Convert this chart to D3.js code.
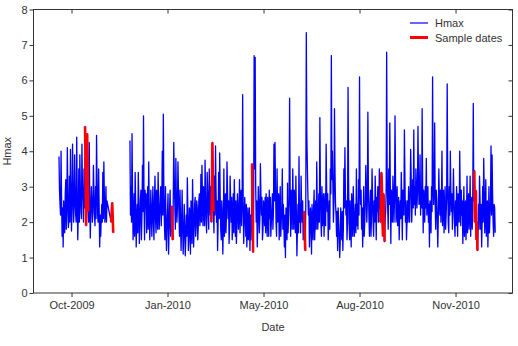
<!DOCTYPE html>
<html lang="en">
<head>
<meta charset="UTF-8">
<title>Hmax</title>
<script src="https://d3js.org/d3.v7.min.js"></script>
<style>
  body { margin: 0; background: #fff; }
  text { font-family: "Liberation Sans", Arial, sans-serif; }
</style>
</head>
<body>
<script>
// first block: readings at 00:00 each day from 19 Oct 2009 ...
let seg1Start = "2009-10-19";
let seg1Values = [
  3.85, 2.5, 4.0, 1.6, 1.3, 2.0, 2.8, 1.8, 4.1, 1.85,
  3.3, 4.05, 1.75, 4.2, 2.0, 3.9, 2.2, 4.4, 1.5, 3.5,
  3.9, 2.3, 4.2, 2.6, 3.5, 4.7, 1.9, 4.5, 2.3, 4.25,
  1.55, 3.0, 2.0, 3.6, 2.2, 3.0, 4.45, 2.2, 3.5, 1.3,
  1.6, 2.5, 3.4, 3.7, 2.0, 3.0, 2.6
];
// ... and at 12:00
let seg1Mid = [
  2.9, 2.2, 2.6, 2.4, 2.6, 1.7, 3.2, 2.3, 2.8, 2.1,
  2.0, 2.9, 2.4, 3.0, 2.4, 2.8, 2.0, 2.7, 2.2, 2.0,
  2.9, 2.1, 3.0, 2.0, 2.4, 3.4, 2.6, 3.6, 2.0, 2.6,
  2.3, 2.6, 2.3, 2.8, 1.9, 2.1, 3.1, 2.0, 2.4, 2.2,
  2.1, 2.0, 2.1, 2.7, 2.3, 2.0
];
// last few readings before the gap
let tailDates = ["2009-12-08", "2009-12-09", "2009-12-10"];
let tailValues = [2.0, 2.55, 1.7];

// second block from 26 Dec 2009, 00:00 readings
let seg2Start = "2009-12-26";
let seg2Values = [
  4.3, 3.0, 4.5, 1.5, 2.8, 3.4, 1.3, 2.5, 3.4, 1.4,
  2.6, 1.5, 3.6, 5.0, 1.5, 2.4, 1.7, 3.0, 3.7, 1.5,
  2.9, 1.6, 3.0, 1.5, 3.3, 1.7, 2.6, 3.4, 1.8, 2.7,
  1.9, 4.0, 5.05, 2.0, 3.0, 1.2, 2.3, 1.1, 2.4, 1.6,
  2.45, 1.5, 4.25, 2.5, 3.8, 2.0, 3.7, 2.2, 2.9, 1.2,
  2.9, 1.1, 2.5, 1.05, 2.2, 3.25, 1.2, 2.4, 1.1, 2.0,
  3.2, 1.3, 2.5, 1.6, 2.6, 1.5, 2.6, 1.9, 3.35, 3.6,
  1.9, 2.4, 3.75, 2.0, 3.4, 2.2, 3.5, 2.2, 2.0, 4.25,
  2.3, 3.3, 4.15, 2.0, 1.2, 3.4, 3.95, 1.8, 2.6, 1.1,
  3.5, 2.0, 1.7, 3.7, 2.1, 1.4, 3.3, 2.0, 1.5, 2.8,
  3.2, 1.6, 1.4, 2.8, 1.8, 3.2, 2.6, 1.9, 5.6, 1.4,
  2.7, 1.6, 1.3, 2.4, 1.9, 1.2, 1.5, 3.65, 1.15, 6.7,
  6.65, 2.0, 1.3, 3.0, 1.7, 3.65, 2.2, 1.5, 2.6, 1.9,
  1.7, 2.3, 2.7, 1.6, 2.1, 1.6, 2.4, 1.8, 4.2, 4.25,
  2.0, 3.5, 2.4, 1.5, 3.0, 2.0, 3.5, 2.5, 1.3, 1.0,
  2.0, 3.1, 2.1, 5.5, 1.6, 2.5, 3.5, 1.8, 2.4, 3.3,
  1.05, 2.5, 3.85, 2.5, 3.3, 2.0, 1.5, 2.3, 1.2, 7.35,
  3.6, 2.2, 1.3, 2.4, 1.1, 2.0, 2.4, 1.5, 2.6, 3.7,
  1.8, 2.8, 4.95, 2.0, 3.0, 2.2, 1.6, 2.8, 4.2, 2.3,
  1.5, 2.6, 3.5, 6.7, 4.0, 2.0, 5.2, 2.5, 1.6, 1.2,
  2.0, 1.0, 2.4, 1.5, 1.2, 3.5, 4.1, 2.2, 1.5, 5.8,
  2.0, 2.6, 1.3, 2.2, 3.0, 1.6, 2.5, 3.5, 2.5, 3.2,
  6.1, 2.5, 1.8, 1.3, 3.0, 2.0, 3.6, 2.0, 5.1, 2.2,
  2.4, 1.6, 3.5, 2.0, 2.6, 3.3, 1.5, 2.3, 2.0, 3.5,
  2.0, 3.4, 2.0, 2.8, 1.45, 2.3, 6.8, 2.4, 3.5, 4.8,
  1.4, 2.5, 3.3, 2.0, 5.0, 2.0, 3.0, 2.2, 1.5, 2.6,
  3.4, 1.5, 2.4, 4.6, 2.0, 1.5, 2.6, 3.0, 2.0, 4.05,
  2.0, 3.2, 4.6, 3.0, 3.5, 2.4, 4.7, 2.5, 3.9, 3.0,
  5.2, 1.7, 2.6, 3.0, 3.8, 2.7, 2.0, 1.3, 2.3, 3.0,
  6.1, 2.5, 4.8, 1.8, 2.6, 1.3, 3.5, 2.2, 2.0, 4.0,
  2.6, 1.7, 3.0, 2.2, 5.9, 2.0, 3.0, 4.0, 2.3, 1.8,
  3.5, 2.0, 2.6, 3.0, 1.6, 2.4, 4.0, 1.9, 2.2, 1.4,
  3.0, 2.0, 1.5, 3.3, 2.4, 1.8, 3.3, 2.4, 1.8, 5.35,
  3.45, 2.4, 1.5, 1.2, 2.5, 3.3, 1.8, 1.3, 3.0, 3.8,
  1.7, 3.2, 2.0, 1.3, 3.0, 2.2, 4.15, 3.9, 2.0, 2.5,
  1.7
];
// 12:00 readings, second block
let seg2Mid = [
  2.2, 2.0, 2.8, 2.0, 1.6, 2.5, 2.0, 1.7, 2.6, 1.9,
  2.9, 2.2, 2.3, 2.6, 2.9, 2.8, 2.3, 1.8, 2.4, 2.0,
  2.2, 2.4, 2.0, 2.6, 2.1, 2.9, 1.8, 2.5, 2.2, 3.0,
  2.5, 2.2, 2.8, 1.5, 2.2, 1.8, 2.8, 1.7, 2.9, 2.0,
  2.0, 2.6, 3.2, 1.8, 2.6, 2.4, 2.9, 1.6, 2.0, 1.9,
  1.9, 1.6, 1.9, 1.5, 1.6, 2.3, 1.5, 2.2, 2.6, 1.4,
  2.3, 1.8, 2.7, 1.9, 2.4, 1.9, 2.8, 2.2, 2.0, 2.6,
  3.0, 1.9, 2.7, 1.7, 2.9, 1.8, 2.8, 3.0, 2.7, 3.1,
  1.7, 2.2, 2.9, 2.6, 2.0, 2.1, 2.7, 1.5, 2.2, 1.9,
  1.6, 2.8, 2.2, 2.9, 2.6, 1.9, 2.6, 2.7, 2.0, 1.7,
  2.4, 2.6, 1.9, 2.4, 2.3, 1.7, 2.9, 2.5, 2.6, 2.0,
  2.2, 2.5, 1.8, 1.5, 2.4, 2.2, 2.0, 2.4, 2.0, 3.5,
  3.0, 2.6, 1.9, 2.5, 2.1, 2.8, 2.7, 1.8, 2.4, 2.7,
  2.8, 1.6, 2.3, 2.9, 2.7, 2.0, 2.8, 2.3, 2.6, 3.0,
  1.6, 2.0, 2.8, 2.2, 1.6, 2.4, 1.8, 2.0, 2.2, 2.4,
  1.5, 1.7, 2.6, 3.0, 2.9, 1.8, 2.6, 2.9, 1.7, 2.2,
  1.8, 1.7, 2.0, 1.7, 2.4, 2.6, 2.0, 1.7, 2.5, 4.5,
  2.8, 2.6, 1.8, 2.0, 2.5, 1.5, 2.9, 2.0, 1.8, 2.5,
  2.2, 2.0, 3.0, 1.6, 1.9, 2.8, 2.3, 1.9, 2.9, 2.8,
  2.0, 1.8, 2.8, 3.2, 3.0, 2.6, 3.4, 2.2, 2.3, 2.4,
  1.6, 1.4, 1.9, 2.3, 1.8, 2.4, 2.8, 2.6, 2.0, 3.2,
  1.5, 2.0, 2.8, 1.6, 2.3, 2.0, 1.7, 1.9, 1.8, 2.2,
  3.0, 2.9, 2.4, 2.0, 1.6, 2.5, 2.9, 2.6, 3.0, 1.6,
  2.9, 2.2, 2.7, 1.6, 2.0, 2.6, 2.7, 3.0, 2.4, 2.8,
  2.5, 2.9, 1.6, 2.2, 2.0, 2.8, 3.4, 1.8, 2.5, 3.0,
  2.9, 2.0, 2.8, 2.6, 3.2, 2.5, 1.9, 2.7, 2.2, 2.1,
  2.6, 2.9, 2.2, 3.3, 2.6, 2.0, 2.0, 2.6, 2.8, 3.3,
  2.6, 2.4, 2.5, 2.2, 3.0, 2.8, 3.3, 2.6, 2.2, 2.4,
  3.0, 2.9, 2.0, 2.4, 2.2, 3.0, 2.5, 2.6, 1.7, 2.3,
  3.2, 2.9, 2.5, 2.9, 2.0, 2.2, 2.6, 2.9, 2.6, 1.9,
  2.9, 2.2, 1.8, 2.7, 3.2, 1.7, 2.2, 2.9, 2.8, 2.5,
  2.6, 1.6, 1.9, 2.4, 2.8, 2.0, 2.7, 2.9, 2.6, 2.2,
  1.6, 2.6, 2.1, 1.7, 2.8, 2.4, 1.6, 2.7, 2.6, 2.6,
  2.0, 2.9, 2.0, 1.6, 1.8, 2.6, 2.5, 2.0, 2.0, 2.9,
  2.3, 1.6, 2.6, 2.0, 1.7, 2.6, 2.2, 2.8, 1.6, 2.4
];

// sampling periods (start, end)
let sampleDates = [
  ["2009-11-13", "2009-11-16"],
  ["2009-12-08", "2009-12-10"],
  ["2010-02-04", "2010-02-05"],
  ["2010-03-14", "2010-03-16"],
  ["2010-04-22", "2010-04-23"],
  ["2010-06-11", "2010-06-12"],
  ["2010-08-23", "2010-08-27"],
  ["2010-11-21", "2010-11-24"]
];

let xTicks = ["2009-10-31", "2010-01-31", "2010-05-03", "2010-08-03", "2010-11-03"];
let yTicks = [0, 1, 2, 3, 4, 5, 6, 7, 8];

let width = 518, height = 346;
let margin = {top: 9.5, right: 5.5, bottom: 53, left: 33.5};
let parse = d3.utcParse("%Y-%m-%d");

// one series, with a break (null) between the two blocks
let series = [];
function addBlock(start, vals, mids) {
  vals.forEach((v, i) => {
    let day = d3.utcDay.offset(parse(start), i);
    series.push({date: day, value: v});
    if (i < mids.length) series.push({date: d3.utcHour.offset(day, 12), value: mids[i]});
  });
}
addBlock(seg1Start, seg1Values, seg1Mid);
tailDates.forEach((d, i) => series.push({date: parse(d), value: tailValues[i]}));
series.push(null);
addBlock(seg2Start, seg2Values, seg2Mid);

let x = d3.scaleUtc()
  .domain([new Date(Date.UTC(2009, 8, 24, 14)), new Date(Date.UTC(2010, 11, 27, 14))])
  .range([margin.left, width - margin.right]);
let y = d3.scaleLinear()
  .domain([0, 8])
  .range([height - margin.bottom, margin.top]);

let svg = d3.select("body").append("svg")
  .attr("width", width)
  .attr("height", height);

let line = d3.line()
  .defined(d => d !== null)
  .x(d => x(d.date))
  .y(d => y(d.value));

svg.append("path")
  .datum(series)
  .attr("fill", "none")
  .attr("stroke", "#0000ff")
  .attr("stroke-width", 1.3)
  .attr("stroke-linejoin", "round")
  .attr("d", line);

sampleDates.forEach(r => {
  let a = parse(r[0]), b = parse(r[1]);
  let pts = series.filter(d => d && d.date >= a && d.date <= b);
  svg.append("path")
    .datum(pts)
    .attr("fill", "none")
    .attr("stroke", "#ff0000")
    .attr("stroke-width", 2.6)
    .attr("d", line);
});

// axes
let xAxis = d3.axisBottom(x)
  .tickValues(xTicks.map(parse))
  .tickFormat(d3.utcFormat("%b-%Y"))
  .tickSize(4);
let yAxis = d3.axisLeft(y)
  .tickValues(yTicks)
  .tickSize(4);

let gx = svg.append("g")
  .attr("transform", `translate(0,${height - margin.bottom})`)
  .call(xAxis);
let gy = svg.append("g")
  .attr("transform", `translate(${margin.left},0)`)
  .call(yAxis);

// mirrored ticks on top and right
svg.append("g")
  .attr("transform", `translate(0,${margin.top})`)
  .call(d3.axisTop(x).tickValues(xTicks.map(parse)).tickSize(-4).tickFormat(""));
svg.append("g")
  .attr("transform", `translate(${width - margin.right},0)`)
  .call(d3.axisRight(y).tickValues(yTicks).tickSize(-4).tickFormat(""));

svg.selectAll(".domain").remove();
svg.selectAll(".tick line").attr("stroke", "#333");
svg.selectAll(".tick text")
  .attr("font-size", 11)
  .attr("fill", "#333")
  .style("font-family", "'Liberation Sans', Arial, sans-serif");
gx.selectAll(".tick text").attr("dy", "0.95em").attr("y", 6);
gy.selectAll(".tick text").attr("x", -6);

// frame
svg.append("rect")
  .attr("x", margin.left)
  .attr("y", margin.top)
  .attr("width", width - margin.left - margin.right)
  .attr("height", height - margin.top - margin.bottom)
  .attr("fill", "none")
  .attr("stroke", "#333")
  .attr("stroke-width", 1);

// axis titles
svg.append("text")
  .attr("x", (margin.left + width - margin.right) / 2)
  .attr("y", 331)
  .attr("text-anchor", "middle")
  .attr("font-size", 11)
  .attr("fill", "#333")
  .text("Date");
svg.append("text")
  .attr("transform", `translate(11,${(margin.top + height - margin.bottom) / 2}) rotate(-90)`)
  .attr("text-anchor", "middle")
  .attr("font-size", 11)
  .attr("fill", "#333")
  .text("Hmax");

// legend
let legend = [
  {label: "Hmax", color: "#0000ff", w: 1.2},
  {label: "Sample dates", color: "#ff0000", w: 3}
];
legend.forEach((d, i) => {
  let ly = 23 + i * 14.5;
  svg.append("line")
    .attr("x1", 410).attr("x2", 428)
    .attr("y1", ly).attr("y2", ly)
    .attr("stroke", d.color)
    .attr("stroke-width", d.w);
  svg.append("text")
    .attr("x", 435)
    .attr("y", ly + 4)
    .attr("font-size", 11)
    .attr("fill", "#333")
    .text(d.label);
});
</script>
</body>
</html>
